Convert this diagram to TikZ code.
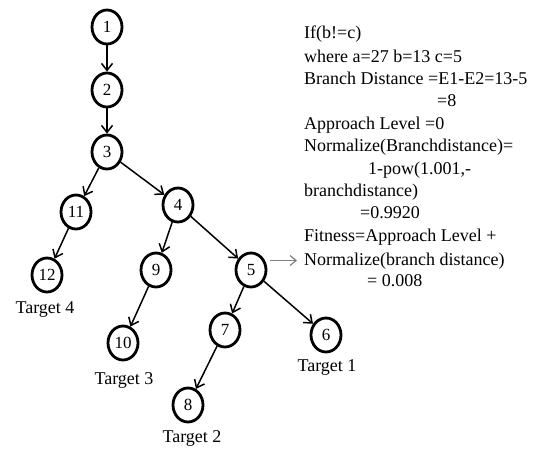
\documentclass[tikz,border=0pt]{standalone}
\usepackage{fontspec}
\setmainfont{Liberation Serif}
\usetikzlibrary{shapes.geometric,arrows.meta}

\begin{document}
\begin{tikzpicture}[x=1pt,y=-1pt,
  vertex/.style={ellipse,draw,line width=2.8pt,minimum width=30pt,minimum height=34pt,
    inner sep=0pt,font=\fontsize{17}{20}\selectfont},
  edge/.style={line width=1.5pt,-{Straight Barb[length=7pt,width=11pt,line width=1.5pt]}},
  pointer/.style={draw=gray,line width=1.2pt,-{Straight Barb[length=6pt,width=10pt,line width=1.2pt]}},
  label/.style={font=\fontsize{18}{22}\selectfont,inner sep=0pt},
  calc/.style={font=\fontsize{18}{22}\selectfont,inner sep=0pt,anchor=base west}]
\useasboundingbox (0,0) rectangle (541,448);

% control-flow graph
\node[vertex] (n1)  at (107,27)  {1};
\node[vertex] (n2)  at (107,90)  {2};
\node[vertex] (n3)  at (107,152) {3};
\node[vertex] (n11) at (76,212)  {11};
\node[vertex] (n4)  at (178,205) {4};
\node[vertex] (n12) at (47,275)  {12};
\node[vertex] (n9)  at (156,270) {9};
\node[vertex] (n5)  at (251,270) {5};
\node[vertex] (n10) at (123,343) {10};
\node[vertex] (n7)  at (225,330) {7};
\node[vertex] (n6)  at (326,335) {6};
\node[vertex] (n8)  at (188,405) {8};

\draw[edge] (n1) -- (n2);
\draw[edge] (n2) -- (n3);
\draw[edge] (n3) -- (n11);
\draw[edge] (n3) -- (n4);
\draw[edge] (n11) -- (n12);
\draw[edge] (n4) -- (n9);
\draw[edge] (n4) -- (n5);
\draw[edge] (n9) -- (n10);
\draw[edge] (n5) -- (n7);
\draw[edge] (n5) -- (n6);
\draw[edge] (n7) -- (n8);

% target labels
\node[label] (tg4) at (45,310)  {Target 4};
\node[label] (tg3) at (124,380) {Target 3};
\node[label] (tg1) at (327,367) {Target 1};
\node[label] (tg2) at (192,438) {Target 2};

% fitness computation
\node[calc] (c1)  at (304,38)  {If(b!=c)};
\node[calc] (c2)  at (304,62)  {where a=27 b=13 c=5};
\node[calc] (c3)  at (304,84)  {Branch Distance =E1-E2=13-5};
\node[calc] (c4)  at (437,106) {=8};
\node[calc] (c5)  at (304,129) {Approach Level =0};
\node[calc] (c6)  at (304,151) {Normalize(Branchdistance)=};
\node[calc] (c7)  at (368,174) {1-pow(1.001,-};
\node[calc] (c8)  at (304,196) {branchdistance)};
\node[calc] (c9)  at (360,218) {=0.9920};
\node[calc] (c10) at (304,241) {Fitness=Approach Level +};
\node[calc] (c11) at (304,265) {Normalize(branch distance)};
\node[calc] (c12) at (367,286) {= 0.008};

\draw[pointer,shorten <=5pt,shorten >=7pt] (n5.34) -- (n5.34 -| c11.west);
\end{tikzpicture}
\end{document}
